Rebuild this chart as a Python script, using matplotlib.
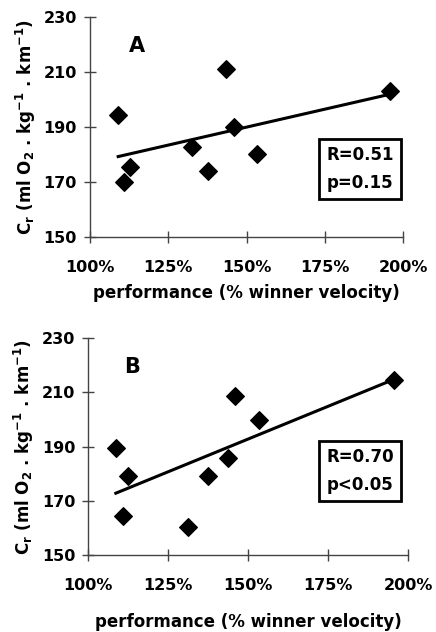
import numpy as np
import matplotlib.pyplot as plt

plt.rcParams['font.family'] = ['DejaVu Sans']
plt.rcParams['font.weight'] = 'bold'
plt.rcParams['mathtext.default'] = 'bf'

# performance (% of winner velocity) vs C_r
perf_a = [109.0, 110.9, 112.7, 132.6, 137.6, 143.5, 146.0, 153.3, 195.8]
cr_a = [194.5, 170.0, 175.5, 182.8, 174.1, 211.1, 190.1, 180.1, 203.1]

perf_b = [108.6, 110.9, 112.5, 131.3, 137.3, 143.6, 145.8, 153.3, 195.5]
cr_b = [189.6, 164.4, 179.2, 160.4, 179.2, 185.7, 208.7, 199.9, 214.6]

xticks = [100, 125, 150, 175, 200]
yticks = [150, 170, 190, 210, 230]

# letter, x, y, stats text, axes rect, letter pos, box pos, xlabel pad
panels = [
    ("A", perf_a, cr_a, "R=0.51\np=0.15", [0.2064, 0.625, 0.718, 0.348],
     (0.149, 0.87), (0.863, 0.31), 6),
    ("B", perf_b, cr_b, "R=0.70\np<0.05", [0.2025, 0.1218, 0.734, 0.343],
     (0.849, 0.387) if False else (0.136, 0.869), (0.849, 0.387), 14),
]

fig = plt.figure(figsize=(4.36, 6.32), dpi=100)

for letter, x, y, stats, rect, lpos, bpos, xpad in panels:
    ax = fig.add_axes(rect)
    ax.scatter(x, y, marker="D", s=80, color="black", zorder=3)
    # least squares line drawn over the data range
    k, b = np.polyfit(x, y, 1)
    xs = np.array([min(x), max(x)])
    ax.plot(xs, k * xs + b, color="black", lw=2.2, zorder=2)

    ax.set_xlim(100, 200)
    ax.set_ylim(150, 230)
    ax.set_xticks(xticks)
    ax.set_xticklabels(["%d%%" % t for t in xticks])
    ax.set_yticks(yticks)
    for s in ["top", "right"]:
        ax.spines[s].set_visible(False)
    for s in ["left", "bottom"]:
        ax.spines[s].set_color("#444444")
        ax.spines[s].set_linewidth(1.0)
    ax.tick_params(axis="x", direction="inout", length=8.6, width=1,
                   color="#444444", labelsize=11.5, pad=12.5)
    ax.tick_params(axis="y", direction="inout", length=8, width=1,
                   color="#444444", labelsize=11.5, pad=5.4)

    ax.text(lpos[0], lpos[1], letter, transform=ax.transAxes, fontsize=15,
            fontweight="bold", ha="center", va="center")
    ax.text(bpos[0], bpos[1], stats, transform=ax.transAxes, fontsize=12,
            fontweight="bold", ha="center", va="center", linespacing=1.7,
            bbox=dict(boxstyle="square,pad=0.42", fc="white", ec="black", lw=2))

    ax.set_xlabel("performance (% winner velocity)", fontsize=12,
                  fontweight="bold", labelpad=xpad)
    ax.set_ylabel(r"C$_r$ (ml O$_2$ . kg$^{-1}$ . km$^{-1}$)",
                  fontsize=12, fontweight="bold", labelpad=4)

fig.savefig("out.png", dpi=100)
